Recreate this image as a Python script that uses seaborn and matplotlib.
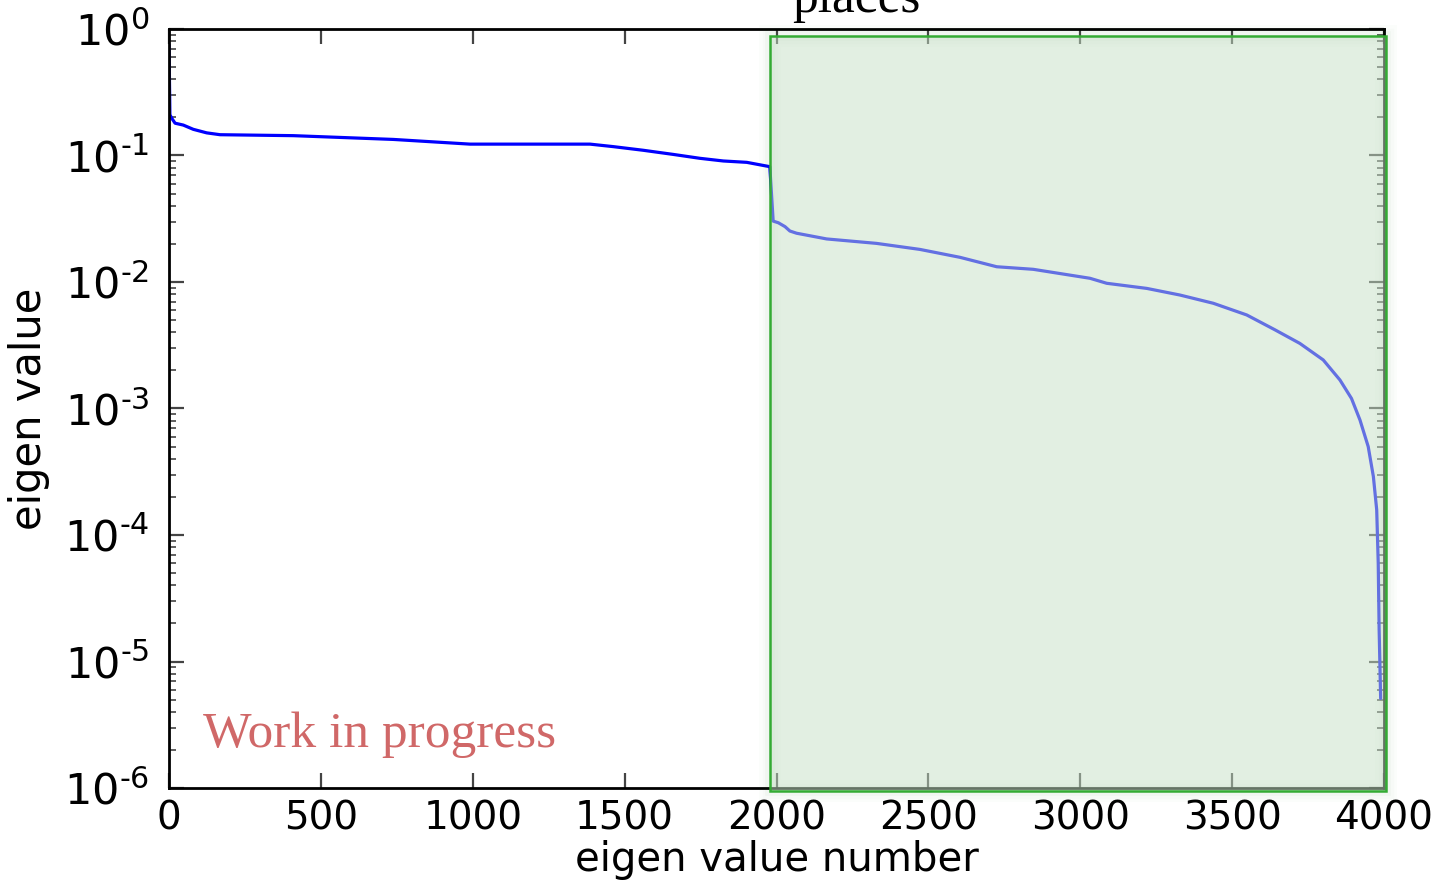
import numpy as np
import pandas as pd
import matplotlib
matplotlib.use("Agg")
import matplotlib.pyplot as plt
from matplotlib.patches import Rectangle
from matplotlib.ticker import FuncFormatter, NullLocator
import seaborn as sns

# ---- data ----
eig_index = [0, 3, 9, 20, 47, 80, 124, 168, 409, 738, 991, 1386, 1463, 1561, 1660,
             1748, 1825, 1902, 1978, 1989, 2006, 2028, 2044, 2066, 2165, 2329, 2472,
             2604, 2725, 2845, 3032, 3087, 3219, 3328, 3438, 3548, 3640, 3723, 3800,
             3855, 3893, 3921, 3948, 3965, 3976, 3981, 3984, 3989]
eig_value = [0.75, 0.21, 0.197, 0.18, 0.174, 0.161, 0.151, 0.146, 0.1435, 0.134, 0.123,
             0.123, 0.1175, 0.110, 0.102, 0.095, 0.0905, 0.0883, 0.0816, 0.0303, 0.0294,
             0.0274, 0.0253, 0.0243, 0.0219, 0.0202, 0.0181, 0.01567, 0.0132, 0.0126,
             0.0107, 0.00977, 0.0089, 0.00789, 0.00679, 0.00549, 0.0042, 0.00327,
             0.00242, 0.00168, 0.0012, 0.00081, 0.0005, 0.00029, 0.000158, 6.0e-5,
             1.78e-5, 5.1e-6]
x_ticks = [0, 500, 1000, 1500, 2000, 2500, 3000, 3500, 4000]
highlight_x = [1980, 4007]
highlight_y = [9.4e-7, 0.885]
title_text = "places"
watermark = "Work in progress"

df = pd.DataFrame({"n": eig_index, "v": eig_value})

sns.set_style("ticks")
plt.rcParams["font.family"] = ["DejaVu Sans"]
plt.rcParams["mathtext.default"] = "regular"
plt.rcParams["text.color"] = "black"
plt.rcParams["axes.labelcolor"] = "black"

fig = plt.figure(figsize=(14.43, 8.83), dpi=100)
ax = fig.add_axes([169 / 1443, 1 - 788 / 883, (1384 - 169) / 1443, (788 - 29) / 883])

sns.lineplot(data=df, x="n", y="v", ax=ax, color="#0000ff", linewidth=2.3,
             sort=False, estimator=None)

ax.set_yscale("log")
ax.set_xlim(0, 4000)
ax.set_ylim(1e-6, 1)
ax.set_xticks(x_ticks)
ax.set_xticklabels([str(t) for t in x_ticks])
ax.xaxis.set_minor_locator(NullLocator())

HYPHEN = "\u2010"


def log_fmt(v, pos):
    e = int(round(np.log10(v)))
    if e < 0:
        return "$10^{" + HYPHEN + str(-e) + "}$"
    return "$10^{" + str(e) + "}$"


ax.yaxis.set_major_formatter(FuncFormatter(log_fmt))

for s in ax.spines.values():
    s.set_linewidth(2)
    s.set_color("black")

ax.tick_params(which="both", direction="in", top=True, right=True, color="#444444",
               labelcolor="black")
ax.tick_params(which="major", length=11, width=1.6, labelsize=28)
ax.tick_params(axis="y", which="major", labelsize=31, pad=14)
ax.tick_params(which="minor", length=5, width=1.2)
ax.tick_params(axis="x", which="major", pad=8)

ax.set_xlabel("eigen value number", fontsize=29, labelpad=2)
ax.set_ylabel("eigen value", fontsize=30, labelpad=10)

# highlighted region with soft glow
x0, x1 = highlight_x
y0, y1 = highlight_y
for lw, a in [(16, 0.015), (11, 0.02), (7, 0.03)]:
    ax.add_patch(Rectangle((x0, y0), x1 - x0, y1 - y0, fill=False,
                           edgecolor=(0.2, 0.5, 0.2, a), linewidth=lw,
                           transform=ax.transData, clip_on=False, zorder=4))
ax.add_patch(Rectangle((x0, y0), x1 - x0, y1 - y0,
                       facecolor=(0.78, 0.88, 0.78, 0.5),
                       edgecolor=(0.2, 0.67, 0.2, 1.0), linewidth=1.8,
                       transform=ax.transData, clip_on=False, zorder=5))

fig.text(856.5 / 1443, 1 - 12 / 883, title_text, family="Liberation Serif",
         fontsize=37, ha="center", va="baseline", color="black")
fig.text(203 / 1443, 1 - 747 / 883, watermark, family="Liberation Serif",
         fontsize=37, ha="left", va="baseline", color="#d06868")

fig.savefig("out.png", dpi=100)
